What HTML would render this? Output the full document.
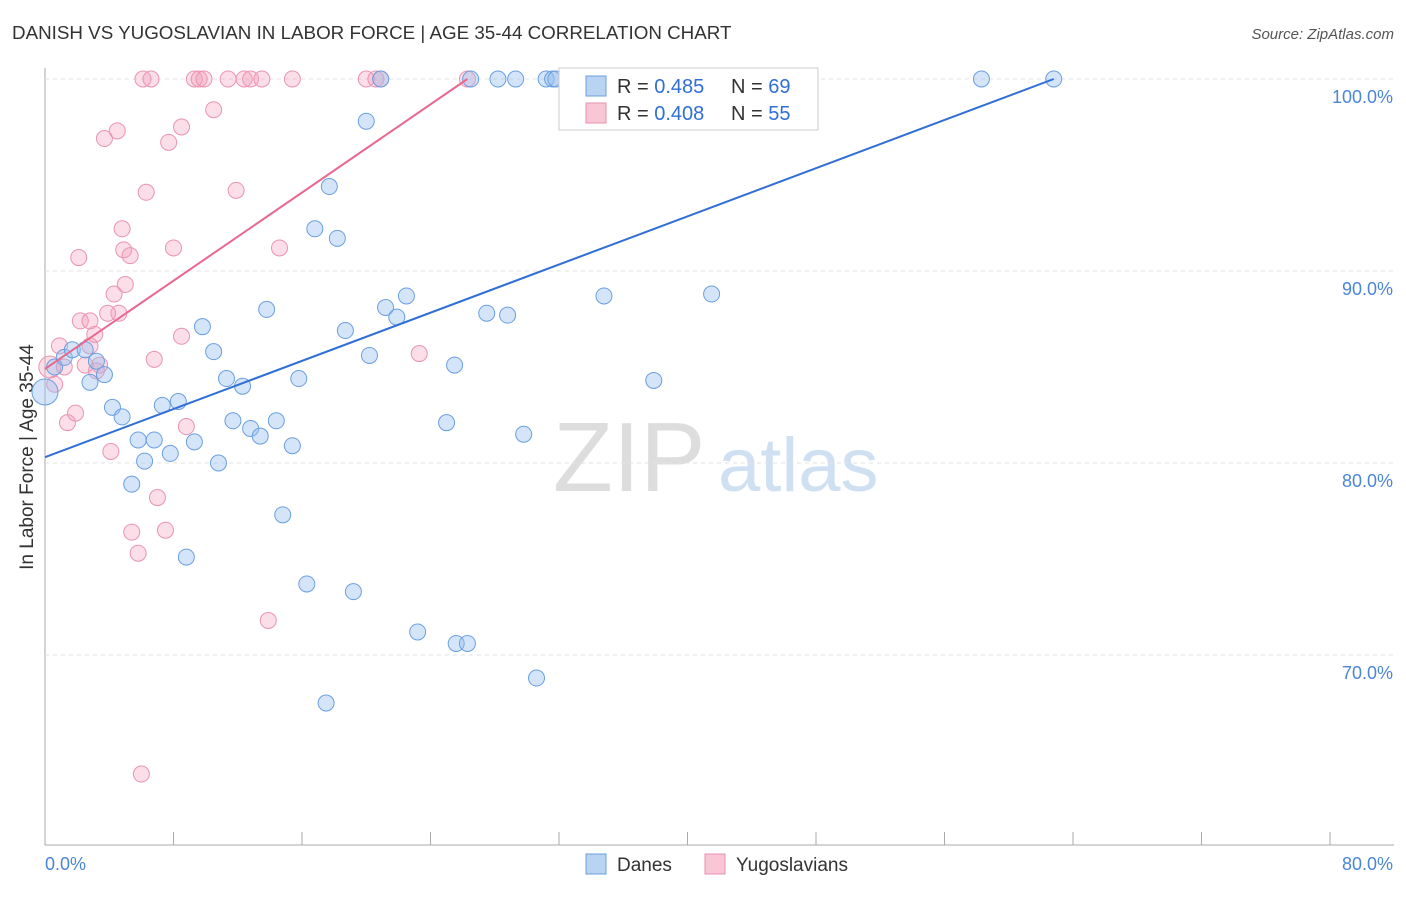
<!DOCTYPE html>
<html><head><meta charset="utf-8"><style>
body{margin:0;background:#fff;font-family:"Liberation Sans",sans-serif;}
svg text{font-family:"Liberation Sans",sans-serif;}
</style></head><body>
<svg id="c" width="1406" height="892" xmlns="http://www.w3.org/2000/svg">
<text x="12" y="39" font-size="18.8" fill="#333">DANISH VS YUGOSLAVIAN IN LABOR FORCE | AGE 35-44 CORRELATION CHART</text>
<text x="1394" y="39" font-size="15" fill="#555" text-anchor="end" font-style="italic">Source: ZipAtlas.com</text>
<text x="33" y="457" font-size="19" fill="#333" text-anchor="middle" transform="rotate(-90 33 457)">In Labor Force | Age 35-44</text>
<text x="553" y="491" font-size="98" fill="#ddd" font-family="Liberation Serif">ZIP</text>
<text x="718" y="491" font-size="76" fill="#cfe0f3">atlas</text>
<g id="grid"></g><g id="pts"></g><g id="lines"></g>
<g>
<rect x="559" y="68" width="259" height="62" fill="#fff" stroke="#ccc"/>
<rect x="586" y="76" width="20" height="20" fill="#b9d3f3" stroke="#6a9fe0"/>
<rect x="586" y="103" width="20" height="20" fill="#f9c6d5" stroke="#e890ab"/>
<text x="617" y="93" font-size="20" fill="#333">R = <tspan fill="#2f6fd6">0.485</tspan></text>
<text x="731" y="93" font-size="20" fill="#333">N = <tspan fill="#2f6fd6">69</tspan></text>
<text x="617" y="120" font-size="20" fill="#333">R = <tspan fill="#2f6fd6">0.408</tspan></text>
<text x="731" y="120" font-size="20" fill="#333">N = <tspan fill="#2f6fd6">55</tspan></text>
</g>
<g>
<rect x="586" y="854" width="20" height="20" fill="#b9d3f3" stroke="#6a9fe0"/>
<text x="617" y="871" font-size="19" fill="#333">Danes</text>
<rect x="705" y="854" width="20" height="20" fill="#f9c6d5" stroke="#e890ab"/>
<text x="736" y="871" font-size="19" fill="#333">Yugoslavians</text>
</g>
</svg>
<script>
const xTicks=[0,8,16,24,32,40,48,56,64,72,80];
const yTicks=[100,90,80,70];
const danesX=[0,0.6,1.2,1.7,2.5,2.8,3.2,3.7,4.2,4.8,5.4,5.8,6.2,6.8,7.3,7.8,8.3,8.8,9.3,9.8,10.5,10.8,11.3,11.7,12.3,12.8,13.4,13.8,14.4,14.8,15.4,15.8,16.3,16.8,17.7,18.2,18.7,19.2,20.0,20.2,20.9,21.2,21.9,22.5,23.2,25.0,25.5,25.6,26.3,26.5,27.5,28.2,28.8,29.3,29.8,30.6,31.2,31.6,31.8,34.8,37.9,41.5,47.6,58.3,62.8,17.5,34.0,35.5,36.5];
const danesY=[83.7,85.0,85.5,85.9,85.9,84.2,85.3,84.6,82.9,82.4,78.9,81.2,80.1,81.2,83.0,80.5,83.2,75.1,81.1,87.1,85.8,80.0,84.4,82.2,84.0,81.8,81.4,88.0,82.2,77.3,80.9,84.4,73.7,92.2,94.4,91.7,86.9,73.3,97.8,85.6,100,88.1,87.6,88.7,71.2,82.1,85.1,70.6,70.6,100,87.8,100,87.7,100,81.5,68.8,100,100,100,88.7,84.3,88.8,100,100,100,67.5,100,100,100];
const yugoX=[0.3,0.6,0.9,1.4,1.9,2.2,2.5,2.8,3.1,3.4,3.7,4.1,4.3,4.5,4.6,4.8,4.9,5.0,5.3,5.4,5.8,6.0,6.1,6.3,6.6,6.8,7.0,7.5,7.7,8.0,8.5,8.5,8.8,9.3,9.6,9.9,10.5,11.4,11.9,12.4,12.8,13.5,13.9,14.6,15.4,20.0,20.6,20.9,23.3,26.3,2.8,1.2,2.1,3.9,3.2];
const yugoY=[85.0,84.1,86.1,82.1,82.6,87.4,85.1,86.1,86.7,85.1,96.9,80.6,88.8,97.3,87.8,92.2,91.1,89.3,90.8,76.4,75.3,63.8,100,94.1,100,85.4,78.2,76.5,96.7,91.2,86.6,97.5,81.9,100,100,100,98.4,100,94.2,100,100,100,71.8,91.2,100,100,100,100,85.7,100,87.4,85.0,90.7,87.8,84.8];
const X=v=>45+v/80*1285, Y=v=>79+(100-v)*19.2;
const NS='http://www.w3.org/2000/svg';
function mk(t,a,p){const e=document.createElementNS(NS,t);for(const k in a)e.setAttribute(k,a[k]);document.getElementById(p).appendChild(e);return e;}
mk('line',{x1:45,y1:68,x2:45,y2:845,stroke:'#aaa'},'grid');
mk('line',{x1:45,y1:845,x2:1394,y2:845,stroke:'#aaa'},'grid');
xTicks.forEach(t=>{const l=mk('line',{x1:X(t),y1:832,x2:X(t),y2:845,stroke:'#aaa'},'grid');

});
yTicks.forEach(t=>{const l=mk('line',{x1:45,y1:Y(t),x2:1394,y2:Y(t),stroke:'#e2e2e2','stroke-dasharray':'4 4'},'grid');


const tx=mk('text',{x:1393,y:Y(t)+24,'font-size':18,fill:'#4a86d8','text-anchor':'end'},'grid');tx.textContent=t.toFixed(1)+'%';

});
let a=mk('text',{x:45,y:870,'font-size':18,fill:'#4a86d8'},'grid');a.textContent='0.0%';


a=mk('text',{x:1393,y:870,'font-size':18,fill:'#4a86d8','text-anchor':'end'},'grid');a.textContent='80.0%';


yugoX.forEach((v,i)=>{const c=mk('circle',{cx:X(v),cy:Y(yugoY[i]),r:i==0?11:8,fill:'rgba(244,160,188,0.35)',stroke:'#e994b0','stroke-width':1},'pts');

});
danesX.forEach((v,i)=>{const c=mk('circle',{cx:X(v),cy:Y(danesY[i]),r:i==0?13:8,fill:'rgba(150,190,240,0.4)',stroke:'#6a9fe0','stroke-width':1},'pts');

});
let l=mk('line',{x1:X(0),y1:Y(80.3),x2:X(62.8),y2:Y(100),stroke:'#2f6fd6','stroke-width':2},'lines');


l=mk('line',{x1:X(0),y1:Y(84.9),x2:X(26.3),y2:Y(100),stroke:'#e8688f','stroke-width':2},'lines');


</script>
</body></html>
